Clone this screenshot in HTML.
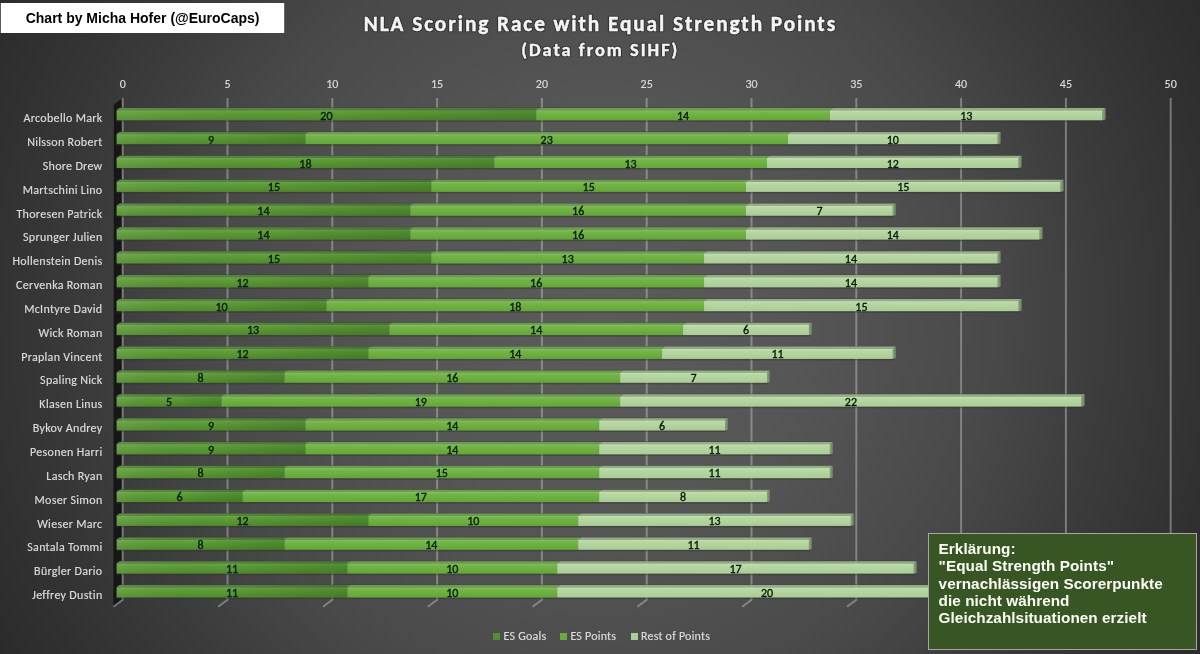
<!DOCTYPE html>
<html><head><meta charset="utf-8"><title>NLA Scoring Race with Equal Strength Points</title>
<style>
html,body{margin:0;padding:0;}
body{width:1200px;height:654px;overflow:hidden;background:#333;}
#c{position:relative;width:1200px;height:654px;overflow:hidden;
 background:radial-gradient(circle farthest-corner at 50% 49%, #5b5b5b 0%, #565656 29%, #525252 38%, #4f4f4f 44%, #4b4b4b 53%, #484848 58.5%, #424242 66%, #3c3c3c 73%, #363636 82%, #323232 88%, #2b2b2b 100%);}
svg{position:absolute;left:0;top:0;}
.ax{font-family:"Carlito", "Liberation Sans", sans-serif;font-size:12px;fill:#dadada;stroke:#dadada;stroke-width:0.18px;}
.dl{font-family:"Carlito", "Liberation Sans", sans-serif;font-size:12px;fill:#071a07;stroke:#071a07;stroke-width:0.35px;}
.cat{font-family:"Carlito", "Liberation Sans", sans-serif;font-size:12px;letter-spacing:0.3px;fill:#dadada;stroke:#dadada;stroke-width:0.18px;}
.lg{font-family:"Carlito", "Liberation Sans", sans-serif;font-size:12px;letter-spacing:0.21px;fill:#dadada;stroke:#dadada;stroke-width:0.18px;}
.cr{font-family:"Liberation Sans", Arial, sans-serif;font-weight:bold;font-size:14px;fill:#000;}
.t1{font-family:"Carlito", "Liberation Sans", sans-serif;font-weight:bold;font-size:21.33px;letter-spacing:1.91px;fill:#f4f4f4;stroke:#f4f4f4;stroke-width:0.45px;}
.t2{font-family:"Carlito", "Liberation Sans", sans-serif;font-weight:bold;font-size:18.4px;letter-spacing:2.0px;fill:#f4f4f4;stroke:#f4f4f4;stroke-width:0.45px;}
.sh{stroke:rgba(20,20,20,.45);stroke-width:2.6px;stroke-linejoin:round;fill:rgba(20,20,20,.45);}
.nt{font-family:"Liberation Sans", Arial, sans-serif;font-weight:bold;font-size:15.3px;letter-spacing:0.05px;fill:#fbfff5;}
</style></head><body>
<div id="c">
<svg width="1200" height="654" viewBox="0 0 1200 654">
<defs>
<linearGradient id="gG" x1="0" y1="0" x2="0" y2="1">
 <stop offset="0" stop-color="#6aa846"/><stop offset="0.25" stop-color="#5e9e38"/><stop offset="1" stop-color="#4f8b2a"/>
</linearGradient>
<linearGradient id="gP" x1="0" y1="0" x2="0" y2="1">
 <stop offset="0" stop-color="#84c05e"/><stop offset="0.25" stop-color="#72b546"/><stop offset="1" stop-color="#62a834"/>
</linearGradient>
<linearGradient id="gR" x1="0" y1="0" x2="0" y2="1">
 <stop offset="0" stop-color="#c4e0b2"/><stop offset="0.25" stop-color="#b6d7a2"/><stop offset="1" stop-color="#a9cd94"/>
</linearGradient>
<linearGradient id="gS" x1="0" y1="0" x2="1" y2="0">
 <stop offset="0" stop-color="#8aa282"/><stop offset="1" stop-color="#66805c"/>
</linearGradient>
<linearGradient id="gGh" x1="0" y1="0" x2="1" y2="0">
 <stop offset="0" stop-color="#ffffff" stop-opacity="0.07"/><stop offset="0.45" stop-color="#000000" stop-opacity="0"/><stop offset="1" stop-color="#002000" stop-opacity="0.16"/>
</linearGradient>
</defs>
<polygon points="113.9,104.5 121.9,98.5 121.9,599.7 113.4,606.7" fill="#161616"/>
<path d="M122.7 98V599.7L113.4 606.7" stroke="rgba(200,200,200,0.45)" stroke-width="2" fill="none"/>
<path d="M227.5 98V599.7L218.2 606.7" stroke="rgba(200,200,200,0.45)" stroke-width="2" fill="none"/>
<path d="M332.3 98V599.7L323 606.7" stroke="rgba(200,200,200,0.45)" stroke-width="2" fill="none"/>
<path d="M437.1 98V599.7L427.8 606.7" stroke="rgba(200,200,200,0.45)" stroke-width="2" fill="none"/>
<path d="M541.9 98V599.7L532.6 606.7" stroke="rgba(200,200,200,0.45)" stroke-width="2" fill="none"/>
<path d="M646.7 98V599.7L637.4 606.7" stroke="rgba(200,200,200,0.45)" stroke-width="2" fill="none"/>
<path d="M751.5 98V599.7L742.2 606.7" stroke="rgba(200,200,200,0.45)" stroke-width="2" fill="none"/>
<path d="M856.3 98V599.7L847 606.7" stroke="rgba(200,200,200,0.45)" stroke-width="2" fill="none"/>
<path d="M961.1 98V599.7L951.8 606.7" stroke="rgba(200,200,200,0.45)" stroke-width="2" fill="none"/>
<path d="M1065.9 98V599.7L1056.6 606.7" stroke="rgba(200,200,200,0.45)" stroke-width="2" fill="none"/>
<path d="M1170.7 98V599.7L1161.4 606.7" stroke="rgba(200,200,200,0.45)" stroke-width="2" fill="none"/>
<text x="122.7" y="88.3" text-anchor="middle" class="ax">0</text>
<text x="227.5" y="88.3" text-anchor="middle" class="ax">5</text>
<text x="332.3" y="88.3" text-anchor="middle" class="ax">10</text>
<text x="437.1" y="88.3" text-anchor="middle" class="ax">15</text>
<text x="541.9" y="88.3" text-anchor="middle" class="ax">20</text>
<text x="646.7" y="88.3" text-anchor="middle" class="ax">25</text>
<text x="751.5" y="88.3" text-anchor="middle" class="ax">30</text>
<text x="856.3" y="88.3" text-anchor="middle" class="ax">35</text>
<text x="961.1" y="88.3" text-anchor="middle" class="ax">40</text>
<text x="1065.9" y="88.3" text-anchor="middle" class="ax">45</text>
<text x="1170.7" y="88.3" text-anchor="middle" class="ax">50</text>
<rect x="116.6" y="120.3" width="987.06" height="1.6" fill="#303030" opacity="0.45"/>
<rect x="119.6" y="107.5" width="986.06" height="0.9" fill="#3a4235" opacity="0.7"/>
<polygon points="116.6,110.3 536.2,110.3 539.2,108.1 119.6,108.1" fill="#55843f"/>
<rect x="116.6" y="110.3" width="419.6" height="10" fill="url(#gG)"/>
<rect x="116.6" y="108.1" width="419.6" height="12.2" fill="url(#gGh)"/>
<polygon points="536.2,110.3 829.92,110.3 832.92,108.1 539.2,108.1" fill="#6c9c52"/>
<rect x="536.2" y="110.3" width="293.72" height="10" fill="url(#gP)"/>
<polygon points="829.92,110.3 1102.66,110.3 1105.66,108.1 832.92,108.1" fill="#93ad86"/>
<rect x="829.92" y="110.3" width="272.74" height="10" fill="url(#gR)"/>
<polygon points="1102.66,110 1105.66,108.1 1105.66,119.5 1102.66,120.3" fill="url(#gS)"/>
<text x="326.4" y="120" text-anchor="middle" class="dl">20</text>
<text x="683.06" y="120" text-anchor="middle" class="dl">14</text>
<text x="966.29" y="120" text-anchor="middle" class="dl">13</text>
<text x="102.5" y="122.1" text-anchor="end" class="cat" textLength="78.94" lengthAdjust="spacingAndGlyphs">Arcobello Mark</text>
<rect x="116.6" y="144.16" width="882.16" height="1.6" fill="#303030" opacity="0.45"/>
<rect x="119.6" y="131.35" width="881.16" height="0.9" fill="#3a4235" opacity="0.7"/>
<polygon points="116.6,134.15 305.42,134.15 308.42,131.95 119.6,131.95" fill="#55843f"/>
<rect x="116.6" y="134.15" width="188.82" height="10.01" fill="url(#gG)"/>
<rect x="116.6" y="131.95" width="188.82" height="12.21" fill="url(#gGh)"/>
<polygon points="305.42,134.15 787.96,134.15 790.96,131.95 308.42,131.95" fill="#6c9c52"/>
<rect x="305.42" y="134.15" width="482.54" height="10.01" fill="url(#gP)"/>
<polygon points="787.96,134.15 997.76,134.15 1000.76,131.95 790.96,131.95" fill="#93ad86"/>
<rect x="787.96" y="134.15" width="209.8" height="10.01" fill="url(#gR)"/>
<polygon points="997.76,133.85 1000.76,131.95 1000.76,143.36 997.76,144.16" fill="url(#gS)"/>
<text x="211.01" y="143.83" text-anchor="middle" class="dl">9</text>
<text x="546.69" y="143.83" text-anchor="middle" class="dl">23</text>
<text x="892.86" y="143.83" text-anchor="middle" class="dl">10</text>
<text x="102.5" y="145.95" text-anchor="end" class="cat" textLength="75.27" lengthAdjust="spacingAndGlyphs">Nilsson Robert</text>
<rect x="116.6" y="168.02" width="903.14" height="1.6" fill="#303030" opacity="0.45"/>
<rect x="119.6" y="155.2" width="902.14" height="0.9" fill="#3a4235" opacity="0.7"/>
<polygon points="116.6,158 494.24,158 497.24,155.8 119.6,155.8" fill="#55843f"/>
<rect x="116.6" y="158" width="377.64" height="10.02" fill="url(#gG)"/>
<rect x="116.6" y="155.8" width="377.64" height="12.22" fill="url(#gGh)"/>
<polygon points="494.24,158 766.98,158 769.98,155.8 497.24,155.8" fill="#6c9c52"/>
<rect x="494.24" y="158" width="272.74" height="10.02" fill="url(#gP)"/>
<polygon points="766.98,158 1018.74,158 1021.74,155.8 769.98,155.8" fill="#93ad86"/>
<rect x="766.98" y="158" width="251.76" height="10.02" fill="url(#gR)"/>
<polygon points="1018.74,157.7 1021.74,155.8 1021.74,167.22 1018.74,168.02" fill="url(#gS)"/>
<text x="305.42" y="167.66" text-anchor="middle" class="dl">18</text>
<text x="630.61" y="167.66" text-anchor="middle" class="dl">13</text>
<text x="892.86" y="167.66" text-anchor="middle" class="dl">12</text>
<text x="102.5" y="169.8" text-anchor="end" class="cat" textLength="59.77" lengthAdjust="spacingAndGlyphs">Shore Drew</text>
<rect x="116.6" y="191.88" width="945.1" height="1.6" fill="#303030" opacity="0.45"/>
<rect x="119.6" y="179.05" width="944.1" height="0.9" fill="#3a4235" opacity="0.7"/>
<polygon points="116.6,181.85 431.3,181.85 434.3,179.65 119.6,179.65" fill="#55843f"/>
<rect x="116.6" y="181.85" width="314.7" height="10.03" fill="url(#gG)"/>
<rect x="116.6" y="179.65" width="314.7" height="12.23" fill="url(#gGh)"/>
<polygon points="431.3,181.85 746,181.85 749,179.65 434.3,179.65" fill="#6c9c52"/>
<rect x="431.3" y="181.85" width="314.7" height="10.03" fill="url(#gP)"/>
<polygon points="746,181.85 1060.7,181.85 1063.7,179.65 749,179.65" fill="#93ad86"/>
<rect x="746" y="181.85" width="314.7" height="10.03" fill="url(#gR)"/>
<polygon points="1060.7,181.55 1063.7,179.65 1063.7,191.08 1060.7,191.88" fill="url(#gS)"/>
<text x="273.95" y="191.49" text-anchor="middle" class="dl">15</text>
<text x="588.65" y="191.49" text-anchor="middle" class="dl">15</text>
<text x="903.35" y="191.49" text-anchor="middle" class="dl">15</text>
<text x="102.5" y="193.65" text-anchor="end" class="cat" textLength="79.75" lengthAdjust="spacingAndGlyphs">Martschini Lino</text>
<rect x="116.6" y="215.74" width="777.26" height="1.6" fill="#303030" opacity="0.45"/>
<rect x="119.6" y="202.9" width="776.26" height="0.9" fill="#3a4235" opacity="0.7"/>
<polygon points="116.6,205.7 410.32,205.7 413.32,203.5 119.6,203.5" fill="#55843f"/>
<rect x="116.6" y="205.7" width="293.72" height="10.04" fill="url(#gG)"/>
<rect x="116.6" y="203.5" width="293.72" height="12.24" fill="url(#gGh)"/>
<polygon points="410.32,205.7 746,205.7 749,203.5 413.32,203.5" fill="#6c9c52"/>
<rect x="410.32" y="205.7" width="335.68" height="10.04" fill="url(#gP)"/>
<polygon points="746,205.7 892.86,205.7 895.86,203.5 749,203.5" fill="#93ad86"/>
<rect x="746" y="205.7" width="146.86" height="10.04" fill="url(#gR)"/>
<polygon points="892.86,205.4 895.86,203.5 895.86,214.94 892.86,215.74" fill="url(#gS)"/>
<text x="263.46" y="215.32" text-anchor="middle" class="dl">14</text>
<text x="578.16" y="215.32" text-anchor="middle" class="dl">16</text>
<text x="819.43" y="215.32" text-anchor="middle" class="dl">7</text>
<text x="102.5" y="217.5" text-anchor="end" class="cat" textLength="86.03" lengthAdjust="spacingAndGlyphs">Thoresen Patrick</text>
<rect x="116.6" y="239.6" width="924.12" height="1.6" fill="#303030" opacity="0.45"/>
<rect x="119.6" y="226.75" width="923.12" height="0.9" fill="#3a4235" opacity="0.7"/>
<polygon points="116.6,229.55 410.32,229.55 413.32,227.35 119.6,227.35" fill="#55843f"/>
<rect x="116.6" y="229.55" width="293.72" height="10.05" fill="url(#gG)"/>
<rect x="116.6" y="227.35" width="293.72" height="12.25" fill="url(#gGh)"/>
<polygon points="410.32,229.55 746,229.55 749,227.35 413.32,227.35" fill="#6c9c52"/>
<rect x="410.32" y="229.55" width="335.68" height="10.05" fill="url(#gP)"/>
<polygon points="746,229.55 1039.72,229.55 1042.72,227.35 749,227.35" fill="#93ad86"/>
<rect x="746" y="229.55" width="293.72" height="10.05" fill="url(#gR)"/>
<polygon points="1039.72,229.25 1042.72,227.35 1042.72,238.8 1039.72,239.6" fill="url(#gS)"/>
<text x="263.46" y="239.15" text-anchor="middle" class="dl">14</text>
<text x="578.16" y="239.15" text-anchor="middle" class="dl">16</text>
<text x="892.86" y="239.15" text-anchor="middle" class="dl">14</text>
<text x="102.5" y="241.35" text-anchor="end" class="cat" textLength="79.45" lengthAdjust="spacingAndGlyphs">Sprunger Julien</text>
<rect x="116.6" y="263.46" width="882.16" height="1.6" fill="#303030" opacity="0.45"/>
<rect x="119.6" y="250.6" width="881.16" height="0.9" fill="#3a4235" opacity="0.7"/>
<polygon points="116.6,253.4 431.3,253.4 434.3,251.2 119.6,251.2" fill="#55843f"/>
<rect x="116.6" y="253.4" width="314.7" height="10.06" fill="url(#gG)"/>
<rect x="116.6" y="251.2" width="314.7" height="12.26" fill="url(#gGh)"/>
<polygon points="431.3,253.4 704.04,253.4 707.04,251.2 434.3,251.2" fill="#6c9c52"/>
<rect x="431.3" y="253.4" width="272.74" height="10.06" fill="url(#gP)"/>
<polygon points="704.04,253.4 997.76,253.4 1000.76,251.2 707.04,251.2" fill="#93ad86"/>
<rect x="704.04" y="253.4" width="293.72" height="10.06" fill="url(#gR)"/>
<polygon points="997.76,253.1 1000.76,251.2 1000.76,262.66 997.76,263.46" fill="url(#gS)"/>
<text x="273.95" y="262.98" text-anchor="middle" class="dl">15</text>
<text x="567.67" y="262.98" text-anchor="middle" class="dl">13</text>
<text x="850.9" y="262.98" text-anchor="middle" class="dl">14</text>
<text x="102.5" y="265.2" text-anchor="end" class="cat" textLength="90" lengthAdjust="spacingAndGlyphs">Hollenstein Denis</text>
<rect x="116.6" y="287.32" width="882.16" height="1.6" fill="#303030" opacity="0.45"/>
<rect x="119.6" y="274.45" width="881.16" height="0.9" fill="#3a4235" opacity="0.7"/>
<polygon points="116.6,277.25 368.36,277.25 371.36,275.05 119.6,275.05" fill="#55843f"/>
<rect x="116.6" y="277.25" width="251.76" height="10.07" fill="url(#gG)"/>
<rect x="116.6" y="275.05" width="251.76" height="12.27" fill="url(#gGh)"/>
<polygon points="368.36,277.25 704.04,277.25 707.04,275.05 371.36,275.05" fill="#6c9c52"/>
<rect x="368.36" y="277.25" width="335.68" height="10.07" fill="url(#gP)"/>
<polygon points="704.04,277.25 997.76,277.25 1000.76,275.05 707.04,275.05" fill="#93ad86"/>
<rect x="704.04" y="277.25" width="293.72" height="10.07" fill="url(#gR)"/>
<polygon points="997.76,276.95 1000.76,275.05 1000.76,286.52 997.76,287.32" fill="url(#gS)"/>
<text x="242.48" y="286.81" text-anchor="middle" class="dl">12</text>
<text x="536.2" y="286.81" text-anchor="middle" class="dl">16</text>
<text x="850.9" y="286.81" text-anchor="middle" class="dl">14</text>
<text x="102.5" y="289.05" text-anchor="end" class="cat" textLength="86.39" lengthAdjust="spacingAndGlyphs">Cervenka Roman</text>
<rect x="116.6" y="311.18" width="903.14" height="1.6" fill="#303030" opacity="0.45"/>
<rect x="119.6" y="298.3" width="902.14" height="0.9" fill="#3a4235" opacity="0.7"/>
<polygon points="116.6,301.1 326.4,301.1 329.4,298.9 119.6,298.9" fill="#55843f"/>
<rect x="116.6" y="301.1" width="209.8" height="10.08" fill="url(#gG)"/>
<rect x="116.6" y="298.9" width="209.8" height="12.28" fill="url(#gGh)"/>
<polygon points="326.4,301.1 704.04,301.1 707.04,298.9 329.4,298.9" fill="#6c9c52"/>
<rect x="326.4" y="301.1" width="377.64" height="10.08" fill="url(#gP)"/>
<polygon points="704.04,301.1 1018.74,301.1 1021.74,298.9 707.04,298.9" fill="#93ad86"/>
<rect x="704.04" y="301.1" width="314.7" height="10.08" fill="url(#gR)"/>
<polygon points="1018.74,300.8 1021.74,298.9 1021.74,310.38 1018.74,311.18" fill="url(#gS)"/>
<text x="221.5" y="310.64" text-anchor="middle" class="dl">10</text>
<text x="515.22" y="310.64" text-anchor="middle" class="dl">18</text>
<text x="861.39" y="310.64" text-anchor="middle" class="dl">15</text>
<text x="102.5" y="312.9" text-anchor="end" class="cat" textLength="78.33" lengthAdjust="spacingAndGlyphs">McIntyre David</text>
<rect x="116.6" y="335.04" width="693.34" height="1.6" fill="#303030" opacity="0.45"/>
<rect x="119.6" y="322.15" width="692.34" height="0.9" fill="#3a4235" opacity="0.7"/>
<polygon points="116.6,324.95 389.34,324.95 392.34,322.75 119.6,322.75" fill="#55843f"/>
<rect x="116.6" y="324.95" width="272.74" height="10.09" fill="url(#gG)"/>
<rect x="116.6" y="322.75" width="272.74" height="12.29" fill="url(#gGh)"/>
<polygon points="389.34,324.95 683.06,324.95 686.06,322.75 392.34,322.75" fill="#6c9c52"/>
<rect x="389.34" y="324.95" width="293.72" height="10.09" fill="url(#gP)"/>
<polygon points="683.06,324.95 808.94,324.95 811.94,322.75 686.06,322.75" fill="#93ad86"/>
<rect x="683.06" y="324.95" width="125.88" height="10.09" fill="url(#gR)"/>
<polygon points="808.94,324.65 811.94,322.75 811.94,334.24 808.94,335.04" fill="url(#gS)"/>
<text x="252.97" y="334.47" text-anchor="middle" class="dl">13</text>
<text x="536.2" y="334.47" text-anchor="middle" class="dl">14</text>
<text x="746" y="334.47" text-anchor="middle" class="dl">6</text>
<text x="102.5" y="336.75" text-anchor="end" class="cat" textLength="63.92" lengthAdjust="spacingAndGlyphs">Wick Roman</text>
<rect x="116.6" y="358.9" width="777.26" height="1.6" fill="#303030" opacity="0.45"/>
<rect x="119.6" y="346" width="776.26" height="0.9" fill="#3a4235" opacity="0.7"/>
<polygon points="116.6,348.8 368.36,348.8 371.36,346.6 119.6,346.6" fill="#55843f"/>
<rect x="116.6" y="348.8" width="251.76" height="10.1" fill="url(#gG)"/>
<rect x="116.6" y="346.6" width="251.76" height="12.3" fill="url(#gGh)"/>
<polygon points="368.36,348.8 662.08,348.8 665.08,346.6 371.36,346.6" fill="#6c9c52"/>
<rect x="368.36" y="348.8" width="293.72" height="10.1" fill="url(#gP)"/>
<polygon points="662.08,348.8 892.86,348.8 895.86,346.6 665.08,346.6" fill="#93ad86"/>
<rect x="662.08" y="348.8" width="230.78" height="10.1" fill="url(#gR)"/>
<polygon points="892.86,348.5 895.86,346.6 895.86,358.1 892.86,358.9" fill="url(#gS)"/>
<text x="242.48" y="358.3" text-anchor="middle" class="dl">12</text>
<text x="515.22" y="358.3" text-anchor="middle" class="dl">14</text>
<text x="777.47" y="358.3" text-anchor="middle" class="dl">11</text>
<text x="102.5" y="360.6" text-anchor="end" class="cat" textLength="81.34" lengthAdjust="spacingAndGlyphs">Praplan Vincent</text>
<rect x="116.6" y="382.76" width="651.38" height="1.6" fill="#303030" opacity="0.45"/>
<rect x="119.6" y="369.85" width="650.38" height="0.9" fill="#3a4235" opacity="0.7"/>
<polygon points="116.6,372.65 284.44,372.65 287.44,370.45 119.6,370.45" fill="#55843f"/>
<rect x="116.6" y="372.65" width="167.84" height="10.11" fill="url(#gG)"/>
<rect x="116.6" y="370.45" width="167.84" height="12.31" fill="url(#gGh)"/>
<polygon points="284.44,372.65 620.12,372.65 623.12,370.45 287.44,370.45" fill="#6c9c52"/>
<rect x="284.44" y="372.65" width="335.68" height="10.11" fill="url(#gP)"/>
<polygon points="620.12,372.65 766.98,372.65 769.98,370.45 623.12,370.45" fill="#93ad86"/>
<rect x="620.12" y="372.65" width="146.86" height="10.11" fill="url(#gR)"/>
<polygon points="766.98,372.35 769.98,370.45 769.98,381.96 766.98,382.76" fill="url(#gS)"/>
<text x="200.52" y="382.13" text-anchor="middle" class="dl">8</text>
<text x="452.28" y="382.13" text-anchor="middle" class="dl">16</text>
<text x="693.55" y="382.13" text-anchor="middle" class="dl">7</text>
<text x="102.5" y="384.45" text-anchor="end" class="cat" textLength="62.38" lengthAdjust="spacingAndGlyphs">Spaling Nick</text>
<rect x="116.6" y="406.62" width="966.08" height="1.6" fill="#303030" opacity="0.45"/>
<rect x="119.6" y="393.7" width="965.08" height="0.9" fill="#3a4235" opacity="0.7"/>
<polygon points="116.6,396.5 221.5,396.5 224.5,394.3 119.6,394.3" fill="#55843f"/>
<rect x="116.6" y="396.5" width="104.9" height="10.12" fill="url(#gG)"/>
<rect x="116.6" y="394.3" width="104.9" height="12.32" fill="url(#gGh)"/>
<polygon points="221.5,396.5 620.12,396.5 623.12,394.3 224.5,394.3" fill="#6c9c52"/>
<rect x="221.5" y="396.5" width="398.62" height="10.12" fill="url(#gP)"/>
<polygon points="620.12,396.5 1081.68,396.5 1084.68,394.3 623.12,394.3" fill="#93ad86"/>
<rect x="620.12" y="396.5" width="461.56" height="10.12" fill="url(#gR)"/>
<polygon points="1081.68,396.2 1084.68,394.3 1084.68,405.82 1081.68,406.62" fill="url(#gS)"/>
<text x="169.05" y="405.96" text-anchor="middle" class="dl">5</text>
<text x="420.81" y="405.96" text-anchor="middle" class="dl">19</text>
<text x="850.9" y="405.96" text-anchor="middle" class="dl">22</text>
<text x="102.5" y="408.3" text-anchor="end" class="cat" textLength="63.13" lengthAdjust="spacingAndGlyphs">Klasen Linus</text>
<rect x="116.6" y="430.48" width="609.42" height="1.6" fill="#303030" opacity="0.45"/>
<rect x="119.6" y="417.55" width="608.42" height="0.9" fill="#3a4235" opacity="0.7"/>
<polygon points="116.6,420.35 305.42,420.35 308.42,418.15 119.6,418.15" fill="#55843f"/>
<rect x="116.6" y="420.35" width="188.82" height="10.13" fill="url(#gG)"/>
<rect x="116.6" y="418.15" width="188.82" height="12.33" fill="url(#gGh)"/>
<polygon points="305.42,420.35 599.14,420.35 602.14,418.15 308.42,418.15" fill="#6c9c52"/>
<rect x="305.42" y="420.35" width="293.72" height="10.13" fill="url(#gP)"/>
<polygon points="599.14,420.35 725.02,420.35 728.02,418.15 602.14,418.15" fill="#93ad86"/>
<rect x="599.14" y="420.35" width="125.88" height="10.13" fill="url(#gR)"/>
<polygon points="725.02,420.05 728.02,418.15 728.02,429.68 725.02,430.48" fill="url(#gS)"/>
<text x="211.01" y="429.79" text-anchor="middle" class="dl">9</text>
<text x="452.28" y="429.79" text-anchor="middle" class="dl">14</text>
<text x="662.08" y="429.79" text-anchor="middle" class="dl">6</text>
<text x="102.5" y="432.15" text-anchor="end" class="cat" textLength="69.81" lengthAdjust="spacingAndGlyphs">Bykov Andrey</text>
<rect x="116.6" y="454.34" width="714.32" height="1.6" fill="#303030" opacity="0.45"/>
<rect x="119.6" y="441.4" width="713.32" height="0.9" fill="#3a4235" opacity="0.7"/>
<polygon points="116.6,444.2 305.42,444.2 308.42,442 119.6,442" fill="#55843f"/>
<rect x="116.6" y="444.2" width="188.82" height="10.14" fill="url(#gG)"/>
<rect x="116.6" y="442" width="188.82" height="12.34" fill="url(#gGh)"/>
<polygon points="305.42,444.2 599.14,444.2 602.14,442 308.42,442" fill="#6c9c52"/>
<rect x="305.42" y="444.2" width="293.72" height="10.14" fill="url(#gP)"/>
<polygon points="599.14,444.2 829.92,444.2 832.92,442 602.14,442" fill="#93ad86"/>
<rect x="599.14" y="444.2" width="230.78" height="10.14" fill="url(#gR)"/>
<polygon points="829.92,443.9 832.92,442 832.92,453.54 829.92,454.34" fill="url(#gS)"/>
<text x="211.01" y="453.62" text-anchor="middle" class="dl">9</text>
<text x="452.28" y="453.62" text-anchor="middle" class="dl">14</text>
<text x="714.53" y="453.62" text-anchor="middle" class="dl">11</text>
<text x="102.5" y="456" text-anchor="end" class="cat" textLength="72.5" lengthAdjust="spacingAndGlyphs">Pesonen Harri</text>
<rect x="116.6" y="478.2" width="714.32" height="1.6" fill="#303030" opacity="0.45"/>
<rect x="119.6" y="465.25" width="713.32" height="0.9" fill="#3a4235" opacity="0.7"/>
<polygon points="116.6,468.05 284.44,468.05 287.44,465.85 119.6,465.85" fill="#55843f"/>
<rect x="116.6" y="468.05" width="167.84" height="10.15" fill="url(#gG)"/>
<rect x="116.6" y="465.85" width="167.84" height="12.35" fill="url(#gGh)"/>
<polygon points="284.44,468.05 599.14,468.05 602.14,465.85 287.44,465.85" fill="#6c9c52"/>
<rect x="284.44" y="468.05" width="314.7" height="10.15" fill="url(#gP)"/>
<polygon points="599.14,468.05 829.92,468.05 832.92,465.85 602.14,465.85" fill="#93ad86"/>
<rect x="599.14" y="468.05" width="230.78" height="10.15" fill="url(#gR)"/>
<polygon points="829.92,467.75 832.92,465.85 832.92,477.4 829.92,478.2" fill="url(#gS)"/>
<text x="200.52" y="477.45" text-anchor="middle" class="dl">8</text>
<text x="441.79" y="477.45" text-anchor="middle" class="dl">15</text>
<text x="714.53" y="477.45" text-anchor="middle" class="dl">11</text>
<text x="102.5" y="479.85" text-anchor="end" class="cat" textLength="56.2" lengthAdjust="spacingAndGlyphs">Lasch Ryan</text>
<rect x="116.6" y="502.06" width="651.38" height="1.6" fill="#303030" opacity="0.45"/>
<rect x="119.6" y="489.1" width="650.38" height="0.9" fill="#3a4235" opacity="0.7"/>
<polygon points="116.6,491.9 242.48,491.9 245.48,489.7 119.6,489.7" fill="#55843f"/>
<rect x="116.6" y="491.9" width="125.88" height="10.16" fill="url(#gG)"/>
<rect x="116.6" y="489.7" width="125.88" height="12.36" fill="url(#gGh)"/>
<polygon points="242.48,491.9 599.14,491.9 602.14,489.7 245.48,489.7" fill="#6c9c52"/>
<rect x="242.48" y="491.9" width="356.66" height="10.16" fill="url(#gP)"/>
<polygon points="599.14,491.9 766.98,491.9 769.98,489.7 602.14,489.7" fill="#93ad86"/>
<rect x="599.14" y="491.9" width="167.84" height="10.16" fill="url(#gR)"/>
<polygon points="766.98,491.6 769.98,489.7 769.98,501.26 766.98,502.06" fill="url(#gS)"/>
<text x="179.54" y="501.28" text-anchor="middle" class="dl">6</text>
<text x="420.81" y="501.28" text-anchor="middle" class="dl">17</text>
<text x="683.06" y="501.28" text-anchor="middle" class="dl">8</text>
<text x="102.5" y="503.7" text-anchor="end" class="cat" textLength="67.94" lengthAdjust="spacingAndGlyphs">Moser Simon</text>
<rect x="116.6" y="525.92" width="735.3" height="1.6" fill="#303030" opacity="0.45"/>
<rect x="119.6" y="512.95" width="734.3" height="0.9" fill="#3a4235" opacity="0.7"/>
<polygon points="116.6,515.75 368.36,515.75 371.36,513.55 119.6,513.55" fill="#55843f"/>
<rect x="116.6" y="515.75" width="251.76" height="10.17" fill="url(#gG)"/>
<rect x="116.6" y="513.55" width="251.76" height="12.37" fill="url(#gGh)"/>
<polygon points="368.36,515.75 578.16,515.75 581.16,513.55 371.36,513.55" fill="#6c9c52"/>
<rect x="368.36" y="515.75" width="209.8" height="10.17" fill="url(#gP)"/>
<polygon points="578.16,515.75 850.9,515.75 853.9,513.55 581.16,513.55" fill="#93ad86"/>
<rect x="578.16" y="515.75" width="272.74" height="10.17" fill="url(#gR)"/>
<polygon points="850.9,515.45 853.9,513.55 853.9,525.12 850.9,525.92" fill="url(#gS)"/>
<text x="242.48" y="525.11" text-anchor="middle" class="dl">12</text>
<text x="473.26" y="525.11" text-anchor="middle" class="dl">10</text>
<text x="714.53" y="525.11" text-anchor="middle" class="dl">13</text>
<text x="102.5" y="527.55" text-anchor="end" class="cat" textLength="65.36" lengthAdjust="spacingAndGlyphs">Wieser Marc</text>
<rect x="116.6" y="549.78" width="693.34" height="1.6" fill="#303030" opacity="0.45"/>
<rect x="119.6" y="536.8" width="692.34" height="0.9" fill="#3a4235" opacity="0.7"/>
<polygon points="116.6,539.6 284.44,539.6 287.44,537.4 119.6,537.4" fill="#55843f"/>
<rect x="116.6" y="539.6" width="167.84" height="10.18" fill="url(#gG)"/>
<rect x="116.6" y="537.4" width="167.84" height="12.38" fill="url(#gGh)"/>
<polygon points="284.44,539.6 578.16,539.6 581.16,537.4 287.44,537.4" fill="#6c9c52"/>
<rect x="284.44" y="539.6" width="293.72" height="10.18" fill="url(#gP)"/>
<polygon points="578.16,539.6 808.94,539.6 811.94,537.4 581.16,537.4" fill="#93ad86"/>
<rect x="578.16" y="539.6" width="230.78" height="10.18" fill="url(#gR)"/>
<polygon points="808.94,539.3 811.94,537.4 811.94,548.98 808.94,549.78" fill="url(#gS)"/>
<text x="200.52" y="548.94" text-anchor="middle" class="dl">8</text>
<text x="431.3" y="548.94" text-anchor="middle" class="dl">14</text>
<text x="693.55" y="548.94" text-anchor="middle" class="dl">11</text>
<text x="102.5" y="551.4" text-anchor="end" class="cat" textLength="75.23" lengthAdjust="spacingAndGlyphs">Santala Tommi</text>
<rect x="116.6" y="573.64" width="798.24" height="1.6" fill="#303030" opacity="0.45"/>
<rect x="119.6" y="560.65" width="797.24" height="0.9" fill="#3a4235" opacity="0.7"/>
<polygon points="116.6,563.45 347.38,563.45 350.38,561.25 119.6,561.25" fill="#55843f"/>
<rect x="116.6" y="563.45" width="230.78" height="10.19" fill="url(#gG)"/>
<rect x="116.6" y="561.25" width="230.78" height="12.39" fill="url(#gGh)"/>
<polygon points="347.38,563.45 557.18,563.45 560.18,561.25 350.38,561.25" fill="#6c9c52"/>
<rect x="347.38" y="563.45" width="209.8" height="10.19" fill="url(#gP)"/>
<polygon points="557.18,563.45 913.84,563.45 916.84,561.25 560.18,561.25" fill="#93ad86"/>
<rect x="557.18" y="563.45" width="356.66" height="10.19" fill="url(#gR)"/>
<polygon points="913.84,563.15 916.84,561.25 916.84,572.84 913.84,573.64" fill="url(#gS)"/>
<text x="231.99" y="572.77" text-anchor="middle" class="dl">11</text>
<text x="452.28" y="572.77" text-anchor="middle" class="dl">10</text>
<text x="735.51" y="572.77" text-anchor="middle" class="dl">17</text>
<text x="102.5" y="575.25" text-anchor="end" class="cat" textLength="68.42" lengthAdjust="spacingAndGlyphs">Bürgler Dario</text>
<rect x="116.6" y="597.5" width="861.18" height="1.6" fill="#303030" opacity="0.45"/>
<rect x="119.6" y="584.5" width="860.18" height="0.9" fill="#3a4235" opacity="0.7"/>
<polygon points="116.6,587.3 347.38,587.3 350.38,585.1 119.6,585.1" fill="#55843f"/>
<rect x="116.6" y="587.3" width="230.78" height="10.2" fill="url(#gG)"/>
<rect x="116.6" y="585.1" width="230.78" height="12.4" fill="url(#gGh)"/>
<polygon points="347.38,587.3 557.18,587.3 560.18,585.1 350.38,585.1" fill="#6c9c52"/>
<rect x="347.38" y="587.3" width="209.8" height="10.2" fill="url(#gP)"/>
<polygon points="557.18,587.3 976.78,587.3 979.78,585.1 560.18,585.1" fill="#93ad86"/>
<rect x="557.18" y="587.3" width="419.6" height="10.2" fill="url(#gR)"/>
<polygon points="976.78,587 979.78,585.1 979.78,596.7 976.78,597.5" fill="url(#gS)"/>
<text x="231.99" y="596.6" text-anchor="middle" class="dl">11</text>
<text x="452.28" y="596.6" text-anchor="middle" class="dl">10</text>
<text x="766.98" y="596.6" text-anchor="middle" class="dl">20</text>
<text x="102.5" y="599.1" text-anchor="end" class="cat" textLength="70.5" lengthAdjust="spacingAndGlyphs">Jeffrey Dustin</text>
<rect x="493" y="633" width="7" height="7" fill="#4f9130"/>
<text x="503.6" y="640.4" class="lg" textLength="42.75" lengthAdjust="spacingAndGlyphs">ES Goals</text>
<rect x="560" y="633" width="7" height="7" fill="#65ad38"/>
<text x="570.4" y="640.4" class="lg" textLength="45.81" lengthAdjust="spacingAndGlyphs">ES Points</text>
<rect x="631" y="633" width="7" height="7" fill="#a9cf95"/>
<text x="641" y="640.4" class="lg" textLength="69.17" lengthAdjust="spacingAndGlyphs">Rest of Points</text>
</svg>
<svg width="1200" height="654" viewBox="0 0 1200 654">
<rect x="0" y="3" width="1" height="30" fill="#5c5c5c"/><rect x="1" y="3" width="283.2" height="30" fill="#fff"/>
<text x="25.7" y="23" class="cr">Chart by Micha Hofer (@EuroCaps)</text>
<text x="363.7" y="31" class="t1 sh" textLength="473.38" lengthAdjust="spacingAndGlyphs">NLA Scoring Race with Equal Strength Points</text>
<text x="363.7" y="31" class="t1" textLength="473.38" lengthAdjust="spacingAndGlyphs">NLA Scoring Race with Equal Strength Points</text>
<text x="521.2" y="55.6" class="t2 sh" textLength="158.17" lengthAdjust="spacingAndGlyphs">(Data from SIHF)</text>
<text x="521.2" y="55.6" class="t2" textLength="158.17" lengthAdjust="spacingAndGlyphs">(Data from SIHF)</text>
<rect x="928.5" y="533.5" width="268" height="116" fill="#375623" stroke="#a6a6a6" stroke-width="1"/>
<text class="nt"><tspan x="938.6" y="553.6">Erklärung:</tspan><tspan x="938.6" y="571.05">"Equal Strength Points"</tspan><tspan x="938.6" y="588.5">vernachlässigen Scorerpunkte</tspan><tspan x="938.6" y="605.95">die nicht während</tspan><tspan x="938.6" y="623.4">Gleichzahlsituationen erzielt</tspan></text>
</svg>
</div>
</body></html>
